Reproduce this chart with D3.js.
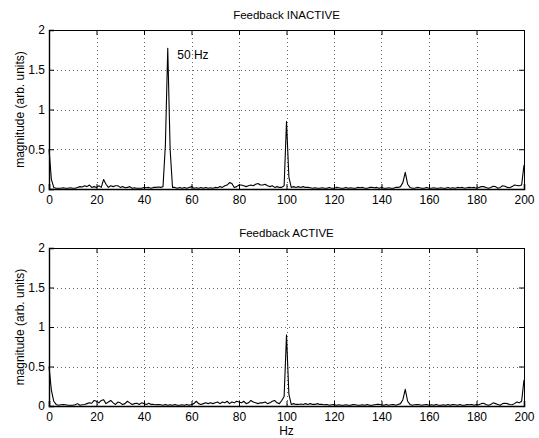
<!DOCTYPE html>
<html>
<head>
<meta charset="utf-8">
<script src="https://cdn.jsdelivr.net/npm/d3@7"></script>
<style>
  body { margin: 0; background: #fff; }
  svg { display: block; }
  text { font-family: "Liberation Sans", Arial, Helvetica, sans-serif; fill: #000; }
</style>
</head>
<body>
<svg id="chart" width="539" height="438"></svg>
<script>
// Frequency axis (Hz), 1 Hz resolution from 0 to 200
const freqStart = 0;
const freqStep = 1;

// Feedback INACTIVE spectrum magnitude (arb. units), index = Hz
const inactiveMag = [
  0.5,0.12,0.02,0.01,0.01,0.01,0.015,0.01,0.01,0.015,
  0.01,0.01,0.02,0.03,0.025,0.04,0.03,0.05,0.02,0.03,
  0.02,0.04,0.02,0.12,0.06,0.02,0.04,0.03,0.04,0.04,
  0.02,0.03,0.015,0.02,0.03,0.01,0.015,0.01,0.01,0.01,
  0.02,0.015,0.02,0.01,0.02,0.02,0.025,0.02,0.03,0.55,
  1.77,0.5,0.02,0.02,0.01,0.02,0.01,0.02,0.01,0.02,
  0.03,0.01,0.015,0.01,0.02,0.01,0.02,0.01,0.015,0.01,
  0.02,0.015,0.03,0.02,0.04,0.05,0.08,0.07,0.02,0.03,
  0.05,0.05,0.04,0.03,0.04,0.05,0.04,0.06,0.07,0.05,
  0.05,0.06,0.04,0.03,0.04,0.02,0.03,0.02,0.02,0.04,
  0.85,0.15,0.02,0.03,0.02,0.03,0.02,0.03,0.02,0.02,
  0.015,0.01,0.015,0.01,0.01,0.015,0.01,0.01,0.02,0.01,
  0.01,0.02,0.015,0.01,0.01,0.02,0.01,0.015,0.01,0.01,
  0.02,0.015,0.02,0.01,0.01,0.02,0.02,0.015,0.02,0.01,
  0.02,0.01,0.01,0.015,0.01,0.01,0.02,0.02,0.03,0.08,
  0.21,0.06,0.02,0.01,0.01,0.02,0.015,0.01,0.01,0.02,
  0.01,0.01,0.015,0.01,0.01,0.015,0.01,0.01,0.02,0.01,
  0.015,0.01,0.02,0.015,0.02,0.01,0.015,0.02,0.015,0.02,
  0.01,0.02,0.03,0.03,0.02,0.01,0.02,0.035,0.03,0.01,
  0.02,0.04,0.035,0.02,0.015,0.03,0.05,0.045,0.04,0.05,
  0.3
];

// Feedback ACTIVE spectrum magnitude (arb. units), index = Hz
const activeMag = [
  0.5,0.2,0.06,0.02,0.01,0.015,0.02,0.015,0.01,0.01,
  0.01,0.015,0.03,0.01,0.015,0.02,0.03,0.04,0.035,0.07,
  0.06,0.04,0.07,0.08,0.03,0.05,0.07,0.04,0.02,0.05,
  0.04,0.02,0.03,0.06,0.04,0.02,0.03,0.035,0.02,0.04,
  0.03,0.02,0.035,0.02,0.02,0.015,0.02,0.015,0.01,0.02,
  0.01,0.015,0.01,0.02,0.01,0.01,0.015,0.01,0.02,0.01,
  0.02,0.03,0.06,0.03,0.02,0.03,0.04,0.03,0.04,0.03,
  0.04,0.05,0.03,0.05,0.04,0.06,0.03,0.05,0.04,0.06,
  0.05,0.04,0.06,0.03,0.04,0.07,0.05,0.04,0.03,0.04,
  0.04,0.05,0.03,0.04,0.06,0.07,0.04,0.03,0.07,0.12,
  0.9,0.15,0.02,0.03,0.02,0.02,0.025,0.02,0.03,0.02,
  0.03,0.02,0.02,0.03,0.02,0.02,0.015,0.02,0.01,0.015,
  0.02,0.01,0.015,0.01,0.01,0.015,0.01,0.01,0.02,0.015,
  0.01,0.01,0.015,0.01,0.02,0.01,0.01,0.015,0.02,0.02,
  0.015,0.01,0.02,0.01,0.015,0.02,0.01,0.02,0.03,0.08,
  0.21,0.06,0.02,0.01,0.015,0.02,0.015,0.01,0.015,0.02,
  0.01,0.015,0.01,0.02,0.01,0.01,0.015,0.01,0.02,0.01,
  0.02,0.015,0.01,0.02,0.01,0.01,0.02,0.015,0.02,0.01,
  0.02,0.015,0.03,0.035,0.02,0.01,0.02,0.04,0.03,0.02,
  0.01,0.03,0.035,0.03,0.02,0.015,0.03,0.05,0.04,0.06,
  0.33
];

const xTicks = [0, 20, 40, 60, 80, 100, 120, 140, 160, 180, 200];
const yTicks = [0, 0.5, 1, 1.5, 2];
const titles = ["Feedback INACTIVE", "Feedback ACTIVE"];
const yLabel = "magnitude (arb. units)";
const xLabel = "Hz";
const annotation = { text: "50 Hz", x: 54, y: 1.63 };

const svg = d3.select("#chart");
const left = 49, right = 524;
const panels = [
  { top: 30, bottom: 189, data: inactiveMag, title: titles[0], annot: true, xlab: false },
  { top: 248, bottom: 406, data: activeMag, title: titles[1], annot: false, xlab: true }
];

const x = d3.scaleLinear().domain([0, 200]).range([left, right]);
const fontSize = 12;
const titleSize = 11.5;
const tickLen = 5;

panels.forEach(p => {
  const y = d3.scaleLinear().domain([0, 2]).range([p.bottom, p.top]);
  const g = svg.append("g");

  // grid (dotted)
  g.selectAll(".gx").data(xTicks.filter(t => t > 0 && t < 200)).enter().append("line")
    .attr("x1", d => Math.round(x(d)) + 0.5).attr("x2", d => Math.round(x(d)) + 0.5)
    .attr("y1", p.top).attr("y2", p.bottom)
    .attr("stroke", "#000").attr("stroke-width", 0.6).attr("stroke-dasharray", "1,3");
  g.selectAll(".gy").data(yTicks.filter(t => t > 0 && t < 2)).enter().append("line")
    .attr("y1", d => Math.round(y(d)) + 0.5).attr("y2", d => Math.round(y(d)) + 0.5)
    .attr("x1", left).attr("x2", right)
    .attr("stroke", "#000").attr("stroke-width", 0.6).attr("stroke-dasharray", "1,3");

  // data line
  const line = d3.line()
    .x((d, i) => x(freqStart + i * freqStep))
    .y(d => y(d));
  g.append("path").datum(p.data).attr("d", line)
    .attr("fill", "none").attr("stroke", "#000").attr("stroke-width", 1.1)
    .attr("stroke-linejoin", "round");

  // axes with inward ticks on all four sides
  const axB = d3.axisBottom(x).tickValues(xTicks).tickSize(-tickLen).tickPadding(6).tickFormat(d3.format("d"));
  const axT = d3.axisTop(x).tickValues(xTicks).tickSize(-tickLen).tickFormat("");
  const axL = d3.axisLeft(y).tickValues(yTicks).tickSize(-tickLen).tickPadding(4).tickFormat(d => d3.format("")(d));
  const axR = d3.axisRight(y).tickValues(yTicks).tickSize(-tickLen).tickFormat("");

  const gb = g.append("g").attr("transform", `translate(0,${p.bottom})`).call(axB);
  const gt = g.append("g").attr("transform", `translate(0,${p.top})`).call(axT);
  const gl = g.append("g").attr("transform", `translate(${left},0)`).call(axL);
  const gr = g.append("g").attr("transform", `translate(${right},0)`).call(axR);
  [gb, gt, gl, gr].forEach(a => {
    a.selectAll("path.domain").attr("stroke", "#000").attr("stroke-width", 1);
    a.selectAll(".tick line").attr("stroke", "#000");
    a.selectAll("text").attr("font-size", fontSize).attr("font-family", "Liberation Sans, Arial, sans-serif").attr("fill", "#000");
  });
  gb.selectAll("path.domain").attr("stroke-width", 1.6);
  gl.selectAll("path.domain").attr("stroke-width", 1.4);

  // title
  g.append("text").attr("x", (left + right) / 2).attr("y", p.top - 11)
    .attr("text-anchor", "middle").attr("font-size", titleSize).text(p.title);

  // y label
  g.append("text")
    .attr("transform", `translate(24,${(p.top + p.bottom) / 2}) rotate(-90)`)
    .attr("text-anchor", "middle").attr("font-size", fontSize).text(yLabel);

  if (p.annot) {
    g.append("text").attr("x", x(annotation.x)).attr("y", y(annotation.y))
      .attr("font-size", fontSize).text(annotation.text);
  }
  if (p.xlab) {
    g.append("text").attr("x", (left + right) / 2).attr("y", p.bottom + 29)
      .attr("text-anchor", "middle").attr("font-size", fontSize).text(xLabel);
  }
});
</script>
</body>
</html>
